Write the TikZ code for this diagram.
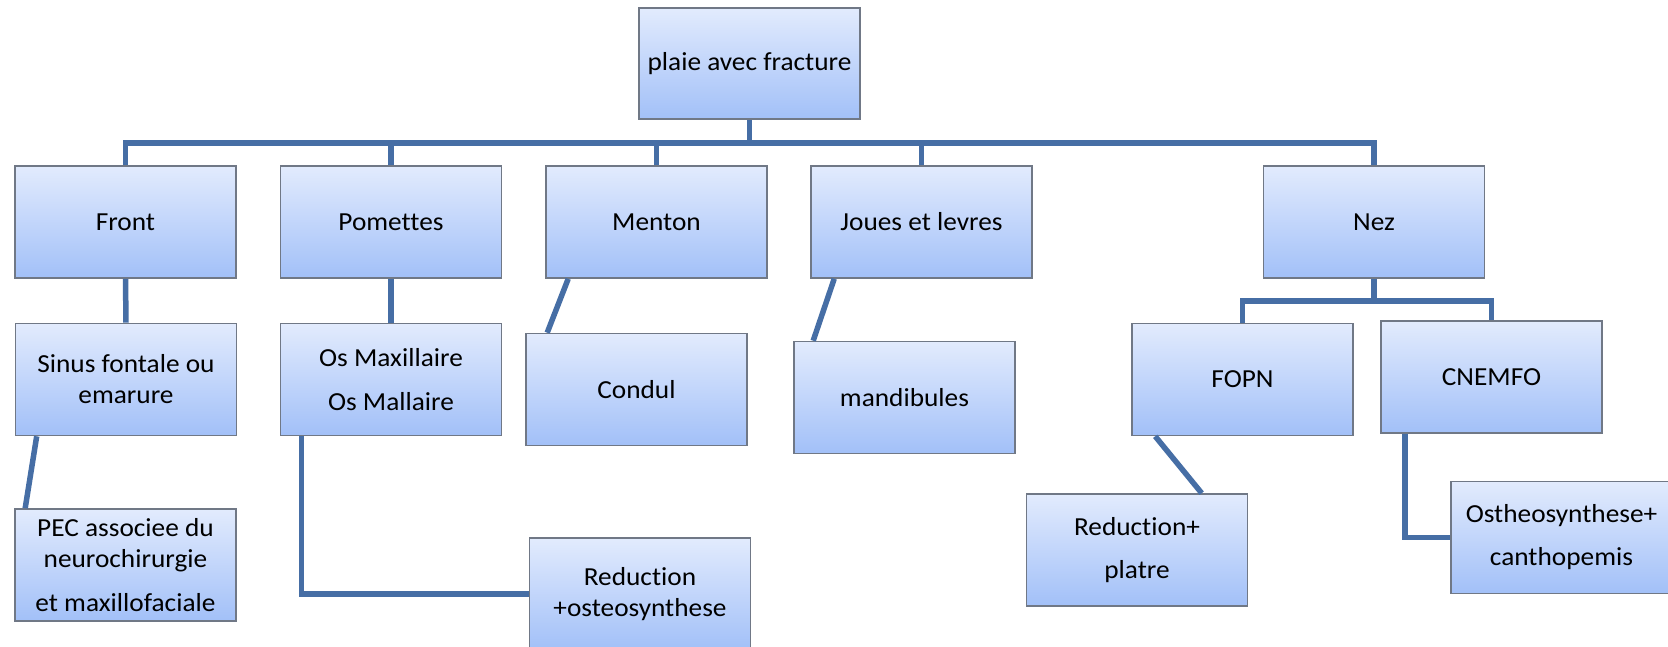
\documentclass[tikz,border=0pt]{standalone}
\usepackage{fontspec}
\setmainfont[Ligatures=NoCommon,FakeStretch=1.05]{Carlito}
\definecolor{boxtop}{RGB}{226,235,253}
\definecolor{boxbot}{RGB}{162,192,248}
\definecolor{boxline}{RGB}{112,120,134}
\definecolor{connc}{RGB}{70,110,165}
\tikzset{
  box/.style={rectangle, draw=boxline, line width=1.6pt, top color=boxtop, bottom color=boxbot,
    minimum width=221pt, minimum height=112pt, inner sep=0pt, align=center,
    font=\fontsize{26}{31}\selectfont, text=black},
  conn/.style={draw=connc, line width=5.5pt}
}
\begin{document}
\begin{tikzpicture}[x=1pt,y=-1pt]
\clip (0,0) rectangle (1668,647);
\fill[white] (0,0) rectangle (1668,647);
\coordinate (bus) at (0,143);
\coordinate (nezbus) at (0,301);
% nodes
\node[box, minimum height=111pt] (root) at (749.5,63.5) {plaie avec fracture};
\node[box] (front) at (125.5,222) {Front};
\node[box] (pom) at (391,222) {Pomettes};
\node[box] (menton) at (656.5,222) {Menton};
\node[box] (joues) at (921.5,222) {Joues et levres};
\node[box] (nez) at (1374,222) {Nez};
\node[box] (sinus) at (126,379.5) {Sinus fontale ou\\emarure};
\node[box] (os) at (391,379.5) {Os Maxillaire\\[13pt]Os Mallaire};
\node[box] (condul) at (636.5,389.5) {Condul};
\node[box] (mand) at (904.5,397.5) {mandibules};
\node[box] (fopn) at (1242.5,379.5) {FOPN};
\node[box] (cnemfo) at (1491.5,377) {CNEMFO};
\node[box] (pec) at (125.5,565) {PEC associee du\\neurochirurgie\\[13pt]et maxillofaciale};
\node[box] (redost) at (640,594) {Reduction\\+osteosynthese};
\node[box] (redpl) at (1137,550) {Reduction+\\[12pt]platre};
\node[box] (ostheo) at (1561.5,537.5) {Ostheosynthese+\\[12pt]canthopemis};
% connectors
\draw[conn] (root.south) -- (root.south |- bus);
\draw[conn] (front.north) -- (front.north |- bus) -- (nez.north |- bus) -- (nez.north);
\draw[conn] (pom.north) -- (pom.north |- bus);
\draw[conn] (menton.north) -- (menton.north |- bus);
\draw[conn] (joues.north) -- (joues.north |- bus);
\draw[conn] (front.south) -- (sinus.north);
\draw[conn] (pom.south) -- (os.north);
\draw[conn] ([xshift=22pt]sinus.south west) -- ([xshift=11pt]pec.north west);
\draw[conn] ([xshift=22pt]os.south west) |- (redost.west);
\draw[conn] ([xshift=23pt]menton.south west) -- ([xshift=22pt]condul.north west);
\draw[conn] ([xshift=24pt]joues.south west) -- ([xshift=20pt]mand.north west);
\draw[conn] (nez.south) -- (nez.south |- nezbus);
\draw[conn] (fopn.north) -- (fopn.north |- nezbus) -- (cnemfo.north |- nezbus) -- (cnemfo.north);
\draw[conn] ([xshift=24pt]fopn.south west) -- ([xshift=176pt]redpl.north west);
\draw[conn] ([xshift=25pt]cnemfo.south west) |- (ostheo.west);
\end{tikzpicture}
\end{document}
